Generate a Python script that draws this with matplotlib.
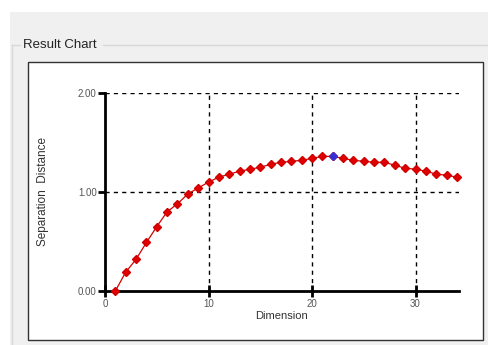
"""Separation distance versus embedding dimension, drawn as a dialog-style result panel."""
import numpy as np
import matplotlib; matplotlib.use("Agg")
import matplotlib.pyplot as plt
from matplotlib.patches import Rectangle
from matplotlib.lines import Line2D

plt.rcParams["font.family"] = ["Liberation Sans", "DejaVu Sans"]

dimension = np.arange(1, 35)
separation = [0.00, 0.19, 0.32, 0.49, 0.65, 0.80, 0.88, 0.98, 1.04, 1.10,
              1.15, 1.18, 1.21, 1.23, 1.25, 1.28, 1.30, 1.31, 1.32, 1.34,
              1.36, 1.36, 1.34, 1.32, 1.31, 1.30, 1.30, 1.27, 1.24, 1.23,
              1.21, 1.18, 1.17, 1.15]
best_dim = 22
x_ticks = [0, 10, 20, 30]
y_ticks = [0.0, 1.0, 2.0]

W, H = 489, 345
fig = plt.figure(figsize=(W / 100, H / 100), dpi=100, facecolor="white")


def px(x0, y0, w, h):
    # pixel box (top-left origin) -> figure fraction
    return x0 / W, 1 - (y0 + h) / H, w / W, h / H


def box(x0, y0, w, h, **kw):
    l, b, ww, hh = px(x0, y0, w, h)
    fig.patches.append(Rectangle((l, b), ww, hh, transform=fig.transFigure, **kw))


# window background and group box
box(10, 12, W - 10, H - 12, facecolor="#f0f0f0", edgecolor="none", zorder=0)
gb = "#d8d8d8"
fig.add_artist(Line2D([12 / W, 12 / W], [1 - 45 / H, 0], transform=fig.transFigure, color=gb, lw=1))
fig.add_artist(Line2D([12 / W, 20 / W], [1 - 45 / H] * 2, transform=fig.transFigure, color=gb, lw=1))
fig.add_artist(Line2D([103 / W, 1], [1 - 45 / H] * 2, transform=fig.transFigure, color=gb, lw=1))
fig.text(23 / W, 1 - 45 / H, "Result Chart", fontsize=9.5, color="#222222", va="center", ha="left")

# white chart panel
box(28, 62, 455, 278, facecolor="white", edgecolor="#333333", lw=1, zorder=1)

ax = fig.add_axes(px(105, 93, 354, 198))
ax.set_facecolor("none")
ax.set_zorder(2)
ax.plot(dimension, separation, color="#d40000", lw=0.9, marker="D", ms=4.3,
        mfc="#e00000", mec="#d00000", clip_on=False, zorder=3)
i = list(dimension).index(best_dim)
ax.plot([best_dim], [separation[i]], marker="D", ms=4.3, color="#3a2fd0", clip_on=False, zorder=4)

ax.set_xlim(0, 34.2)
ax.set_ylim(0, 2.0)
ax.set_xticks(x_ticks)
ax.set_xticklabels([str(t) for t in x_ticks])
ax.set_yticks(y_ticks)
ax.set_yticklabels([f"{t:.2f}" for t in y_ticks])

for t in x_ticks[1:]:
    ax.axvline(t, color="black", lw=1, ls=(0, (3, 3)), zorder=1)
for t in y_ticks[1:]:
    ax.axhline(t, color="black", lw=1, ls=(0, (3, 3)), zorder=1)

for s in ("top", "right"):
    ax.spines[s].set_visible(False)
for s in ("left", "bottom"):
    ax.spines[s].set_linewidth(2)
ax.tick_params(axis="x", direction="inout", length=8, width=2, labelsize=7,
               labelcolor="#555555", pad=2)
ax.tick_params(axis="y", direction="out", length=5, width=2, labelsize=7,
               labelcolor="#555555", pad=1)

ax.set_xlabel("Dimension", fontsize=8, color="#333333", labelpad=1)
ax.set_ylabel("Separation  Distance", fontsize=8.5, color="#333333", labelpad=21)

fig.savefig("out.png", dpi=100, facecolor=fig.get_facecolor())
